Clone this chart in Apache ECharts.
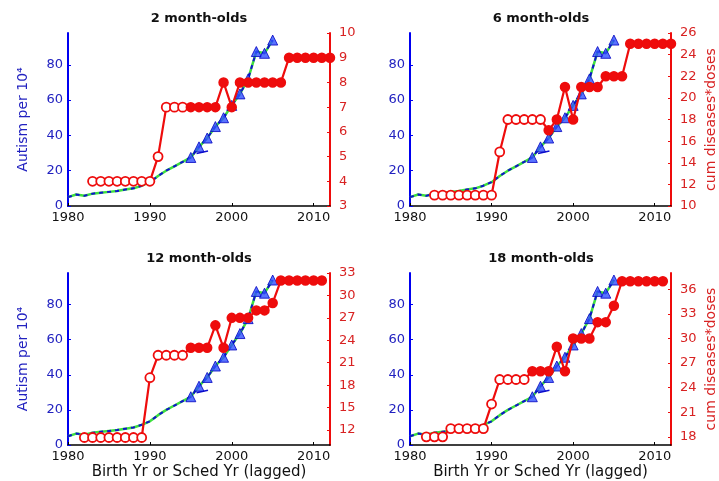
<!DOCTYPE html>
<html>
<head>
<meta charset="utf-8">
<script src="https://cdn.jsdelivr.net/npm/echarts@6/dist/echarts.min.js"></script>
<style>html,body{margin:0;padding:0;background:#fff}#c{width:719px;height:481px}</style>
</head>
<body>
<div id="c"></div>
<script>
// ---- data ----
var panelTitles = ['2 month-olds', '6 month-olds', '12 month-olds', '18 month-olds'];
var xTicks = [1980, 1990, 2000, 2010];
var autismTicks = [0, 20, 40, 60, 80];

var autismYears = [1980,1981,1982,1983,1984,1985,1986,1987,1988,1989,1990,1991,1992,1993,1994,1995,1996,1997,1998,1999,2000,2001,2002,2003,2004,2005];
var autismValues = [5,6.5,5.8,7,7.5,8,8.5,9.3,10,11.5,13.5,17,20,22.5,25,27.5,33.5,38.5,45,50,57,63.5,72,87.5,86.5,94];
var autismMarkerFrom = 1995;
var autismBranchYears = [1995.7, 1997.1];
var autismBranchValues = [29.8, 31.2];

var dose2Years = [1983,1984,1985,1986,1987,1988,1989,1990,1991,1992,1993,1994,1995,1996,1997,1998,1999,2000,2001,2002,2003,2004,2005,2006,2007,2008,2009,2010,2011,2012];
var dose2Values = [4,4,4,4,4,4,4,4,5,7,7,7,7,7,7,7,8,7,8,8,8,8,8,8,9,9,9,9,9,9];
var dose6Years = [1983,1984,1985,1986,1987,1988,1989,1990,1991,1992,1993,1994,1995,1996,1997,1998,1999,2000,2001,2002,2003,2004,2005,2006,2007,2008,2009,2010,2011,2012];
var dose6Values = [11,11,11,11,11,11,11,11,15,18,18,18,18,18,17,18,21,18,21,21,21,22,22,22,25,25,25,25,25,25];
var dose12Years = [1982,1983,1984,1985,1986,1987,1988,1989,1990,1991,1992,1993,1994,1995,1996,1997,1998,1999,2000,2001,2002,2003,2004,2005,2006,2007,2008,2009,2010,2011];
var dose12Values = [11,11,11,11,11,11,11,11,19,22,22,22,22,23,23,23,26,23,27,27,27,28,28,29,32,32,32,32,32,32];
var dose18Years = [1982,1983,1984,1985,1986,1987,1988,1989,1990,1991,1992,1993,1994,1995,1996,1997,1998,1999,2000,2001,2002,2003,2004,2005,2006,2007,2008,2009,2010,2011];
var dose18Values = [18,18,18,19,19,19,19,19,22,25,25,25,25,26,26,26,29,26,30,30,30,32,32,34,37,37,37,37,37,37];

var doseTicks2 = [3,4,5,6,7,8,9,10];
var doseTicks6 = [10,12,14,16,18,20,22,24,26];
var doseTicks12 = [12,15,18,21,24,27,30,33];
var doseTicks18 = [18,21,24,27,30,33,36];

// ---- layout / style ----
var doseSets = [
  {years: dose2Years, values: dose2Values, ticks: doseTicks2, min: 3, max: 10, filledFrom: 1995},
  {years: dose6Years, values: dose6Values, ticks: doseTicks6, min: 10, max: 26, filledFrom: 1997},
  {years: dose12Years, values: dose12Values, ticks: doseTicks12, min: 10, max: 33, filledFrom: 1995},
  {years: dose18Years, values: dose18Values, ticks: doseTicks18, min: 17, max: 38, filledFrom: 1995}
];
var grids = [
  {left: 68, top: 33, width: 262, height: 173},
  {left: 410, top: 33, width: 262, height: 173},
  {left: 68, top: 273, width: 262, height: 173},
  {left: 410, top: 273, width: 262, height: 173}
];
var FONT = 'DejaVu Sans';
var BLUE = '#0000f0', BLUE_TXT = '#2222c0', RED = '#ee0c0c', RED_TXT = '#d82222';

function pairs(xs, ys) { return xs.map(function (x, i) { return [x, ys[i]]; }); }
function plain(v) { return String(v); }

var option = {
  animation: false,
  backgroundColor: '#fff',
  title: [], grid: [], xAxis: [], yAxis: [], series: []
};

grids.forEach(function (g, i) {
  var ds = doseSets[i];
  var isLeft = (i % 2 === 0), isBottom = (i >= 2);
  option.grid.push({left: g.left, top: g.top, width: g.width, height: g.height, containLabel: false});
  option.title.push({
    text: panelTitles[i], left: g.left + g.width / 2, top: g.top - 21, textAlign: 'center', padding: 0,
    textStyle: {fontFamily: FONT, fontSize: 13, fontWeight: 'bold', color: '#111'}
  });
  option.xAxis.push({
    type: 'value', gridIndex: i, min: 1980, max: 2012,
    name: isBottom ? 'Birth Yr or Sched Yr (lagged)' : '',
    nameLocation: 'middle', nameGap: 20,
    nameTextStyle: {fontFamily: FONT, fontSize: 15, color: '#111'},
    axisLine: {show: true, onZero: false, lineStyle: {color: '#000', width: 1.5}},
    axisTick: {show: true, inside: true, length: 3, customValues: xTicks, lineStyle: {color: '#000'}},
    axisLabel: {customValues: xTicks, formatter: plain, fontFamily: FONT, fontSize: 13, color: '#111', margin: 5},
    splitLine: {show: false}
  });
  option.yAxis.push({
    type: 'value', gridIndex: i, position: 'left', min: 0, max: 98,
    name: isLeft ? 'Autism per 10\u2074' : '',
    nameLocation: 'middle', nameGap: 38, nameRotate: 90,
    nameTextStyle: {fontFamily: FONT, fontSize: 14, color: BLUE_TXT},
    axisLine: {show: true, onZero: false, lineStyle: {color: BLUE, width: 2}},
    axisTick: {show: true, inside: true, length: 3, customValues: autismTicks, lineStyle: {color: BLUE}},
    axisLabel: {customValues: autismTicks, formatter: plain, fontFamily: FONT, fontSize: 13, color: BLUE_TXT, margin: 5},
    splitLine: {show: false}
  });
  option.yAxis.push({
    type: 'value', gridIndex: i, position: 'right', min: ds.min, max: ds.max,
    name: isLeft ? '' : 'cum diseases*doses',
    nameLocation: 'middle', nameGap: 33, nameRotate: 90,
    nameTextStyle: {fontFamily: FONT, fontSize: 14, color: RED_TXT},
    axisLine: {show: true, onZero: false, lineStyle: {color: RED, width: 2}},
    axisTick: {show: true, inside: true, length: 3, customValues: ds.ticks, lineStyle: {color: RED}},
    axisLabel: {customValues: ds.ticks, formatter: plain, fontFamily: FONT, fontSize: 13, color: RED_TXT, margin: 9},
    splitLine: {show: false}
  });

  var autismData = pairs(autismYears, autismValues);
  option.series.push({
    type: 'line', xAxisIndex: i, yAxisIndex: 2 * i, data: autismData, symbol: 'none', z: 2,
    lineStyle: {color: '#3ee03e', width: 2.5}
  });
  option.series.push({
    type: 'line', xAxisIndex: i, yAxisIndex: 2 * i, data: autismData, symbol: 'none', z: 3,
    lineStyle: {color: '#1010d0', width: 2, type: [4, 4]}
  });
  option.series.push({
    type: 'line', xAxisIndex: i, yAxisIndex: 2 * i, data: pairs(autismBranchYears, autismBranchValues), symbol: 'none', z: 3,
    lineStyle: {color: '#1010d0', width: 1.5}
  });
  option.series.push({
    type: 'scatter', xAxisIndex: i, yAxisIndex: 2 * i, z: 4,
    data: autismData.filter(function (p) { return p[0] >= autismMarkerFrom; }),
    symbol: 'triangle', symbolSize: 10,
    itemStyle: {color: '#3050ff', borderColor: '#0000c0', borderWidth: 1}
  });
  option.series.push({
    type: 'line', xAxisIndex: i, yAxisIndex: 2 * i + 1, z: 5,
    symbol: 'circle', symbolSize: 9, showAllSymbol: true,
    lineStyle: {color: RED, width: 2.2},
    itemStyle: {color: RED, borderColor: RED, borderWidth: 1.5},
    data: ds.years.map(function (y, k) {
      var filled = y >= ds.filledFrom;
      return {value: [y, ds.values[k]], itemStyle: filled ? {color: RED, borderColor: RED} : {color: '#fff', borderColor: RED, borderWidth: 1.8}};
    })
  });
});

var chart = echarts.init(document.getElementById('c'), null, {renderer: 'canvas'});
chart.setOption(option);
</script>
</body>
</html>
